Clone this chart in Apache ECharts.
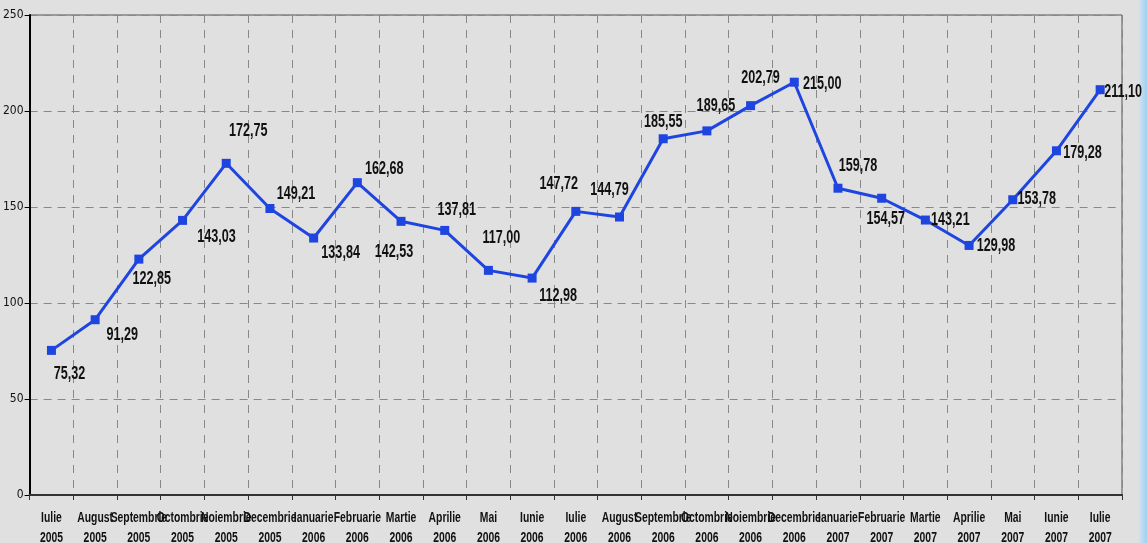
<!DOCTYPE html>
<html>
<head>
<meta charset="utf-8">
<script src="https://cdn.jsdelivr.net/npm/echarts@6/dist/echarts.min.js"></script>
<style>
  html, body { margin: 0; padding: 0; background: #e0e0e0; }
  #main { width: 1147px; height: 543px; }
</style>
</head>
<body>
<div id="main"></div>
<script>
// categories (month + year)
const months = ['Iulie', 'August', 'Septembrie', 'Octombrie', 'Noiembrie', 'Decembrie', 'Ianuarie',
  'Februarie', 'Martie', 'Aprilie', 'Mai', 'Iunie', 'Iulie', 'August', 'Septembrie', 'Octombrie',
  'Noiembrie', 'Decembrie', 'Ianuarie', 'Februarie', 'Martie', 'Aprilie', 'Mai', 'Iunie', 'Iulie'];
const years = ['2005', '2005', '2005', '2005', '2005', '2005', '2006', '2006', '2006', '2006', '2006',
  '2006', '2006', '2006', '2006', '2006', '2006', '2006', '2007', '2007', '2007', '2007', '2007', '2007', '2007'];

const values = [75.32, 91.29, 122.85, 143.03, 172.75, 149.21, 133.84, 162.68, 142.53, 137.81, 117.00,
  112.98, 147.72, 144.79, 185.55, 189.65, 202.79, 215.00, 159.78, 154.57, 143.21, 129.98, 153.78, 179.28, 211.10];

const yTicks = [0, 50, 100, 150, 200, 250];

// where each value label sits relative to its point (px)
const labelOffsets = [[18, 24], [27, 15], [13, 20], [34, 17], [22, -32], [26, -14], [27, 15], [27, -14],
  [-7, 31], [12, -20], [13, -32], [26, 18], [-17, -27], [-10, -27], [0, -17], [9, -25], [10, -28],
  [28, 2], [20, -22], [4, 21], [25, 0], [27, 1], [24, -1], [26, 2], [23, 2]];

const categories = months.map((m, i) => m + '\n' + years[i]);

const chart = echarts.init(document.getElementById('main'));

const option = {
  backgroundColor: '#e0e0e0',
  animation: false,
  graphic: [{
    type: 'rect',
    shape: { x: 1139, y: 0, width: 8, height: 543 },
    style: {
      fill: new echarts.graphic.LinearGradient(0, 0, 1, 0, [
        { offset: 0, color: '#cfe3f2' }, { offset: 1, color: '#9fd0f2' }
      ])
    },
    silent: true
  }],
  grid: {
    left: 28, right: 25, top: 15, bottom: 48,
    show: true, borderColor: '#555', borderWidth: 1, backgroundColor: 'transparent'
  },
  xAxis: {
    type: 'category',
    data: categories,
    boundaryGap: true,
    axisLine: { lineStyle: { color: '#333', width: 2 } },
    axisTick: { show: true, interval: 0, length: 5, lineStyle: { color: '#333' } },
    splitLine: { show: true, interval: 0, lineStyle: { color: '#888', type: [8, 7], width: 1 } },
    // labels are drawn by the custom series below, condensed like the original
    axisLabel: { show: false, interval: 0 }
  },
  yAxis: {
    type: 'value',
    min: yTicks[0], max: yTicks[yTicks.length - 1], interval: 50,
    axisLine: { show: true, lineStyle: { color: '#000', width: 2 } },
    axisTick: { show: true, length: 5, lineStyle: { color: '#000' } },
    splitLine: { show: true, lineStyle: { color: '#888', type: [8, 6], width: 1 } },
    axisLabel: { fontFamily: '"DejaVu Sans Condensed", sans-serif', fontSize: 12, color: '#111', margin: 6 }
  },
  series: [{
    type: 'line',
    data: values,
    symbol: 'rect',
    symbolSize: 9,
    lineStyle: { color: '#1f45e0', width: 3 },
    itemStyle: { color: '#1f45e0' },
    z: 3
  }, {
    // value labels
    type: 'custom',
    data: values,
    z: 4,
    silent: true,
    clip: false,
    renderItem: (params, api) => {
      const i = params.dataIndex;
      const pt = api.coord([i, api.value(0)]);
      const off = labelOffsets[i];
      return {
        type: 'text',
        x: pt[0] + off[0],
        y: pt[1] + off[1],
        scaleX: 0.7,
        style: {
          text: values[i].toFixed(2).replace('.', ','),
          fill: '#111',
          font: 'bold 18px "Liberation Sans", Arial, sans-serif',
          align: 'center',
          verticalAlign: 'middle'
        }
      };
    },
    encode: { x: -1, y: 0 }
  }, {
    // category labels under the axis
    type: 'custom',
    data: categories.map((c, i) => [i, 0]),
    z: 4,
    silent: true,
    clip: false,
    renderItem: (params, api) => {
      const i = params.dataIndex;
      const pt = api.coord([i, 0]);
      return {
        type: 'text',
        x: pt[0],
        y: pt[1] + 13,
        scaleX: 0.74,
        style: {
          text: categories[i],
          fill: '#111',
          font: 'bold 14px "Liberation Sans", Arial, sans-serif',
          lineHeight: 20,
          align: 'center',
          verticalAlign: 'top'
        }
      };
    },
    encode: { x: 0, y: 1 }
  }]
};

chart.setOption(option);
</script>
</body>
</html>
